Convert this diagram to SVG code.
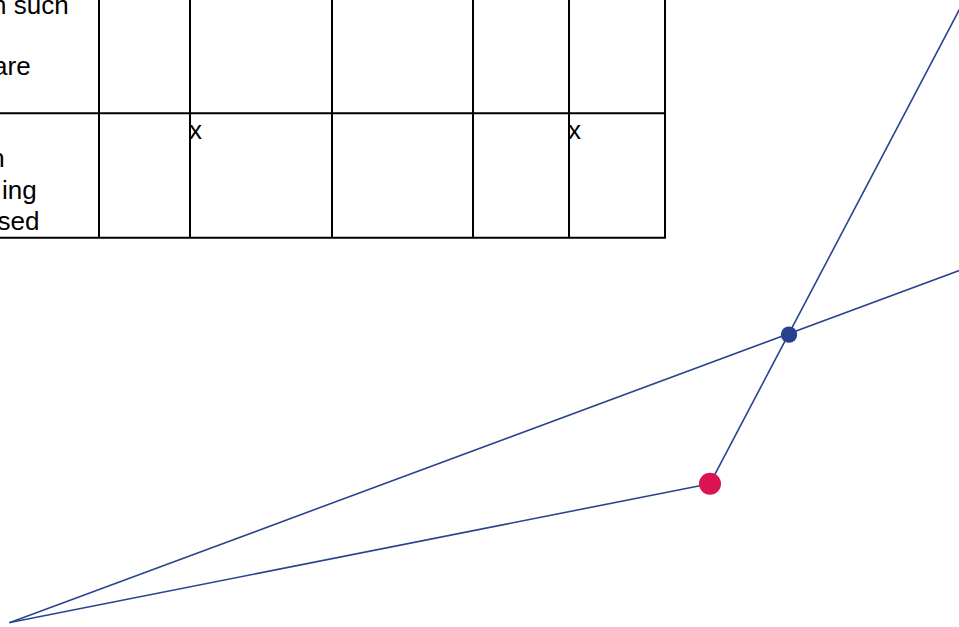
<svg xmlns="http://www.w3.org/2000/svg" width="959" height="627" viewBox="0 0 959 627">
<style>
.grid{stroke:#000;stroke-width:2;fill:none}
.t{font-family:"Liberation Sans",Arial,sans-serif;font-size:26px;fill:#000}
.edge{stroke:#2a4590;stroke-width:1.6;fill:none;stroke-linecap:round}
</style>
<rect width="959" height="627" fill="#fff"/>
<g id="table">
<path class="grid" d="M0 113.3H665 M0 237.7H665 M99 -2V238.7 M190 -2V238.7 M332 -2V238.7 M473 -2V238.7 M569 -2V238.7 M665 -2V238.7"/>
<text class="t" x="68.6" y="13.5" text-anchor="end">n such</text>
<text class="t" x="30.6" y="75" text-anchor="end">are</text>
<text class="t" x="4.8" y="167" text-anchor="end">n</text>
<text class="t" x="36.8" y="198.5" text-anchor="end">ing</text>
<text class="t" x="39.4" y="230" text-anchor="end">sed</text>
<text class="t" x="189" y="138.5">x</text>
<text class="t" x="568" y="138.5">x</text>
</g>
<g id="connectors">
<line class="edge" x1="10" y1="622.5" x2="962" y2="269.5"/>
<line class="edge" x1="10" y1="622.5" x2="710" y2="483.7"/>
<line class="edge" x1="710" y1="483.7" x2="966" y2="-3"/>
</g>
<g id="node-blue"><circle cx="789" cy="334.6" r="8.2" fill="#27418e"/></g>
<g id="node-red"><circle cx="710" cy="483.7" r="11" fill="#d81552"/></g>
</svg>
